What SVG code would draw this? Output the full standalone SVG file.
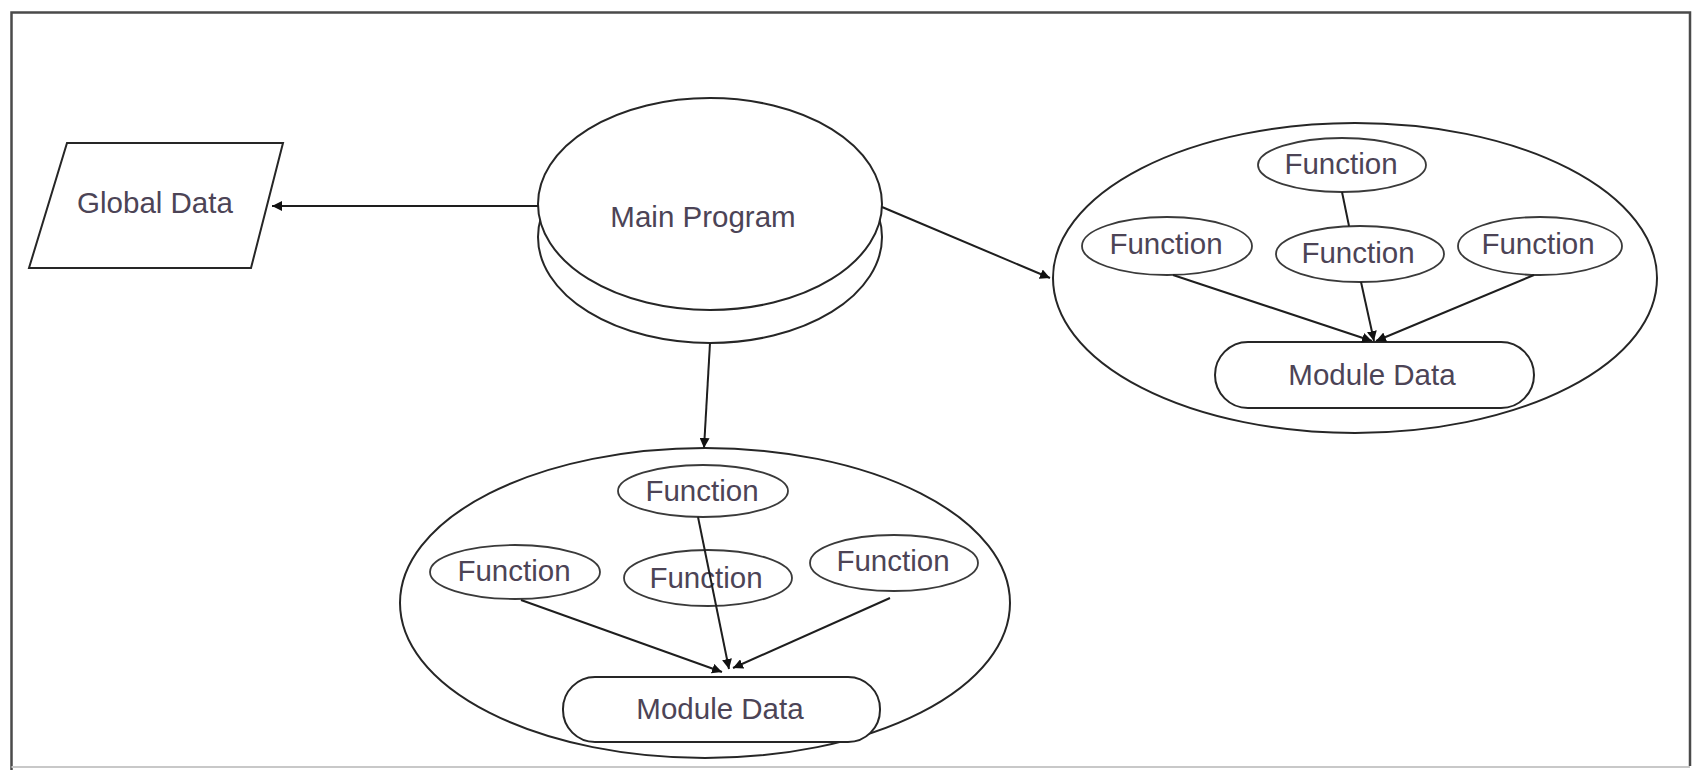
<svg xmlns="http://www.w3.org/2000/svg" width="1694" height="771" viewBox="0 0 1694 771">
  <style>
    .shape { fill: #ffffff; stroke: #262626; stroke-width: 2; }
    .fn { fill: #ffffff; stroke: #3a3a3a; stroke-width: 1.8; }
    .label { font-family: "Liberation Sans", Arial, sans-serif; font-size: 29.5px; fill: #4c4456; text-anchor: middle; }
    .link { stroke: #1e1e1e; stroke-width: 2; fill: none; }
    .arrow { marker-end: url(#head); }
  </style>
  <defs>
    <marker id="head" viewBox="0 0 10 10" refX="10" refY="5" markerWidth="10" markerHeight="10" markerUnits="userSpaceOnUse" orient="auto">
      <path d="M0,0 L10,5 L0,10 z" fill="#111111"/>
    </marker>
  </defs>

  <rect x="0" y="0" width="1694" height="771" fill="#ffffff"/>

  <!-- frame -->
  <g id="frame">
    <path d="M11.5,770 L11.5,12.5 L1690,12.5 L1690,766" fill="none" stroke="#4a4a4a" stroke-width="2.5"/>
    <line x1="11.5" y1="767" x2="1690" y2="767" stroke="#c8c8c8" stroke-width="2"/>
  </g>

  <!-- global data store -->
  <g id="global-data">
    <polygon class="shape" points="67,143 283,143 251,268 29,268"/>
    <text class="label" x="155" y="213">Global Data</text>
  </g>

  <!-- main program (stacked disk) -->
  <g id="main-program">
    <ellipse class="shape" cx="710" cy="237" rx="172" ry="106"/>
    <ellipse class="shape" cx="710" cy="204" rx="172" ry="106"/>
    <text class="label" x="703" y="227">Main Program</text>
  </g>

  <!-- module on the right -->
  <g id="module-right">
    <ellipse class="shape" cx="1355" cy="278" rx="302" ry="155"/>
  </g>
  <g id="module-right-fn-top">
    <ellipse class="fn" cx="1342" cy="165" rx="84" ry="27"/>
    <text class="label" x="1341" y="174">Function</text>
  </g>
  <g id="module-right-fn-left">
    <ellipse class="fn" cx="1167" cy="246" rx="85" ry="29"/>
    <text class="label" x="1166" y="254">Function</text>
  </g>
  <g id="module-right-fn-mid">
    <ellipse class="fn" cx="1360" cy="254" rx="84" ry="28"/>
    <text class="label" x="1358" y="263">Function</text>
  </g>
  <g id="module-right-fn-right">
    <ellipse class="fn" cx="1540" cy="246" rx="82" ry="29"/>
    <text class="label" x="1538" y="254">Function</text>
  </g>
  <g id="module-right-data">
    <rect class="shape" x="1215" y="342" width="319" height="66" rx="33" ry="33"/>
    <text class="label" x="1372" y="385">Module Data</text>
  </g>

  <!-- module at the bottom -->
  <g id="module-bottom">
    <ellipse class="shape" cx="705" cy="603" rx="305" ry="155"/>
  </g>
  <g id="module-bottom-fn-top">
    <ellipse class="fn" cx="703" cy="491" rx="85" ry="26"/>
    <text class="label" x="702" y="501">Function</text>
  </g>
  <g id="module-bottom-fn-left">
    <ellipse class="fn" cx="515" cy="572" rx="85" ry="27"/>
    <text class="label" x="514" y="581">Function</text>
  </g>
  <g id="module-bottom-fn-mid">
    <ellipse class="fn" cx="708" cy="578" rx="84" ry="28"/>
    <text class="label" x="706" y="588">Function</text>
  </g>
  <g id="module-bottom-fn-right">
    <ellipse class="fn" cx="894" cy="563" rx="84" ry="28"/>
    <text class="label" x="893" y="571">Function</text>
  </g>
  <g id="module-bottom-data">
    <rect class="shape" x="563" y="677" width="317" height="65" rx="32" ry="32"/>
    <text class="label" x="720" y="719">Module Data</text>
  </g>

  <!-- connectors -->
  <g id="connectors">
    <line class="link arrow" x1="538" y1="206" x2="272" y2="206"/>
    <line class="link arrow" x1="710" y1="343" x2="704" y2="448"/>
    <line class="link arrow" x1="882" y1="207" x2="1050" y2="278"/>

    <line class="link" x1="1342" y1="192" x2="1349" y2="226"/>
    <line class="link arrow" x1="1361" y1="282" x2="1374" y2="341"/>
    <line class="link arrow" x1="1173" y1="275" x2="1372" y2="341"/>
    <line class="link arrow" x1="1534" y1="275" x2="1376" y2="341"/>

    <line class="link arrow" x1="698" y1="517" x2="729" y2="669"/>
    <line class="link arrow" x1="521" y1="600" x2="722" y2="672"/>
    <line class="link arrow" x1="890" y1="598" x2="733" y2="668"/>
  </g>
</svg>
